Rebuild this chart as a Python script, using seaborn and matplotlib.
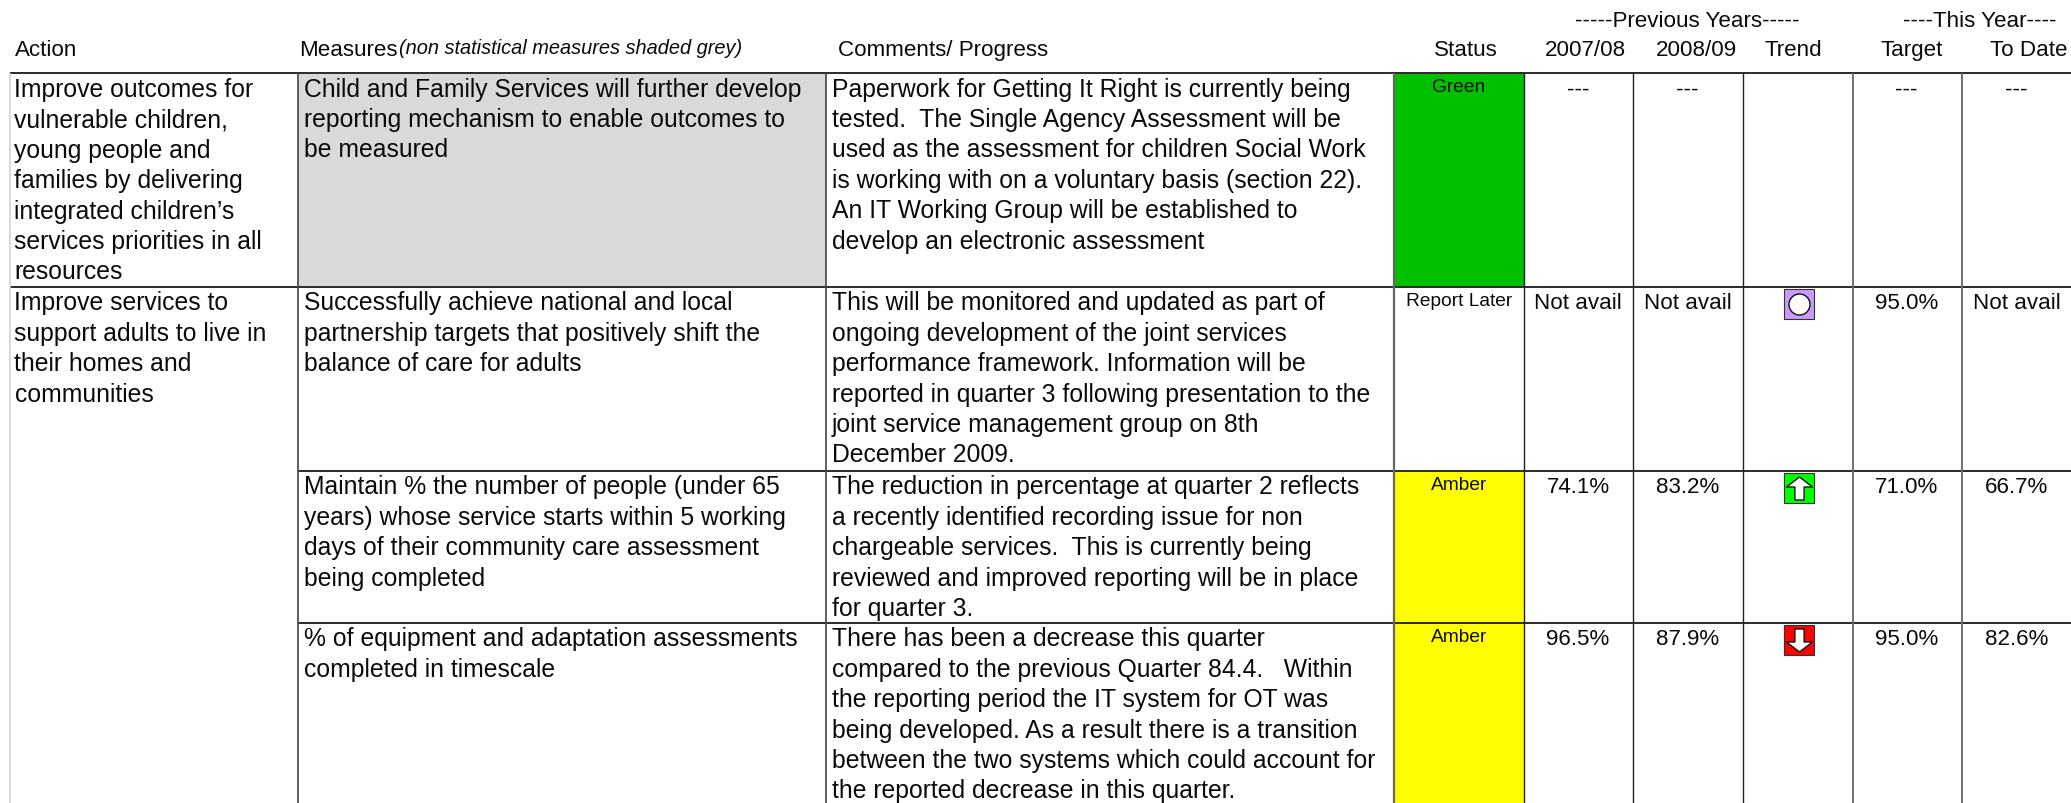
import matplotlib
matplotlib.use("Agg")
import matplotlib.pyplot as plt
import numpy as np
from matplotlib.colors import ListedColormap
from matplotlib.path import Path
import seaborn as sns

# report content
ACTIONS = [
    ["Improve outcomes for", "vulnerable children,", "young people and", "families by delivering",
     "integrated children\u2019s", "services priorities in all", "resources"],
    ["Improve services to", "support adults to live in", "their homes and", "communities"],
]
MEASURES = [
    ["Child and Family Services will further develop", "reporting mechanism to enable outcomes to",
     "be measured"],
    ["Successfully achieve national and local", "partnership targets that positively shift the",
     "balance of care for adults"],
    ["Maintain % the number of people (under 65", "years) whose service starts within 5 working",
     "days of their community care assessment", "being completed"],
    ["% of equipment and adaptation assessments", "completed in timescale"],
]
COMMENTS = [
    ["Paperwork for Getting It Right is currently being", "tested.  The Single Agency Assessment will be",
     "used as the assessment for children Social Work", "is working with on a voluntary basis (section 22).",
     "An IT Working Group will be established to", "develop an electronic assessment"],
    ["This will be monitored and updated as part of", "ongoing development of the joint services",
     "performance framework. Information will be", "reported in quarter 3 following presentation to the",
     "joint service management group on 8th", "December 2009."],
    ["The reduction in percentage at quarter 2 reflects", "a recently identified recording issue for non",
     "chargeable services.  This is currently being", "reviewed and improved reporting will be in place",
     "for quarter 3."],
    ["There has been a decrease this quarter", "compared to the previous Quarter 84.4.   Within",
     "the reporting period the IT system for OT was", "being developed. As a result there is a transition",
     "between the two systems which could account for", "the reported decrease in this quarter."],
]
STATUS = ["Green", "Report Later", "Amber", "Amber"]
Y2007 = ["---", "Not avail", "74.1%", "96.5%"]
Y2008 = ["---", "Not avail", "83.2%", "87.9%"]
TREND = ["", "same", "up", "down"]
TARGET = ["---", "95.0%", "71.0%", "95.0%"]
TO_DATE = ["---", "Not avail", "66.7%", "82.6%"]

# layout, in pixels of the 2071x804 page
COL_EDGES = [0, 10, 298, 826, 1394, 1524, 1633, 1743, 1853, 1962, 2071]
ROW_EDGES = [0, 74, 288, 472, 624, 804]
STATUS_COLORS = ["white", "#D9D9D9", "#00C000", "#FFFF00"]
TREND_COLORS = {"same": "#CC99FF", "up": "#00FF00", "down": "#FF0000"}
BODY_PT = 17.8
HEAD_PT = 16.1
PITCH = 30.4

# fill code per row (header + 4 rows) and column
cell_codes = np.zeros((5, 10), dtype=int)
cell_codes[1, 2] = 1
cell_codes[1, 4] = 2
cell_codes[3:5, 4] = 3
pixel_codes = np.repeat(np.repeat(cell_codes, np.diff(ROW_EDGES), axis=0), np.diff(COL_EDGES), axis=1)

sns.set_theme(style="white")
plt.rcParams["font.family"] = ["Liberation Sans", "DejaVu Sans"]

fig = plt.figure(figsize=(20.71, 8.04), dpi=100)
ax = fig.add_axes([0, 0, 1, 1])
sns.heatmap(pixel_codes, ax=ax, cmap=ListedColormap(STATUS_COLORS), vmin=-0.5, vmax=3.5,
            cbar=False, xticklabels=False, yticklabels=False)
ax.set_xlim(0, 2071)
ax.set_ylim(804, 0)
ax.axis("off")


def put(x, y, label, size=BODY_PT, ha="left", **kw):
    ax.text(x, y, label, fontsize=size, ha=ha, va="baseline", color="#0a0a0a", **kw)


def put_lines(x, y, lines):
    for i, line in enumerate(lines):
        put(x, y + i * PITCH, line)


# headers
put(14.5, 56, "Action", HEAD_PT)
put(299, 56, "Measures", HEAD_PT)
put(399, 54, "(non statistical measures shaded grey)", 14.4, style="italic")
put(838, 56, "Comments/ Progress", HEAD_PT)
for x, label in [(1466, "Status"), (1585, "2007/08"), (1696, "2008/09"), (1793, "Trend"),
                 (1912, "Target"), (2029, "To Date")]:
    put(x, 56, label, HEAD_PT, ha="center")
put(1687, 27, "-----Previous Years-----", HEAD_PT, ha="center")
put(1980, 27, "----This Year----", HEAD_PT, ha="center")

# grid lines
ax.hlines(ROW_EDGES[1:3], 10, 2071, color="#2a2a2a", lw=1.4)
ax.hlines(ROW_EDGES[3:5], 298, 2071, color="#2a2a2a", lw=1.4)
ax.vlines(COL_EDGES[1], 74, 804, color="#D2D2D2", lw=1.2)
ax.vlines(COL_EDGES[2:4], 74, 804, color="#444444", lw=1.2)
ax.vlines(COL_EDGES[4], 74, 804, color="#666666", lw=1.6)
ax.vlines(COL_EDGES[5:8], 74, 804, color="#222222", lw=1.0)
ax.vlines(COL_EDGES[8:10], 74, 804, color="#666666", lw=1.3)

# row text
tops = ROW_EDGES[1:5]
put_lines(14.5, tops[0] + 23, ACTIONS[0])
put_lines(14.5, tops[1] + 22.5, ACTIONS[1])
for i, top in enumerate(tops):
    put_lines(304, top + 22.5, MEASURES[i])
    put_lines(832, top + 22.5, COMMENTS[i])
    put(1459, top + 18.5, STATUS[i], 13.8, ha="center")
    base = top + 21.5
    put(1578, base, Y2007[i], HEAD_PT, ha="center")
    put(1687.5, base, Y2008[i], HEAD_PT, ha="center")
    put(1906.5, base, TARGET[i], HEAD_PT, ha="center")
    put(2016.5, base, TO_DATE[i], HEAD_PT, ha="center")

# trend markers
up_arrow = Path([(-13, 1.5), (0, 11.5), (13, 1.5), (4.6, 1.5), (4.6, -11.5), (-4.6, -11.5),
                 (-4.6, 1.5), (-13, 1.5)], closed=True)
down_arrow = Path([(-13, -1.5), (0, -11.5), (13, -1.5), (4.6, -1.5), (4.6, 11.5), (-4.6, 11.5),
                   (-4.6, -1.5), (-13, -1.5)], closed=True)
glyphs = {"same": ("o", 21), "up": (up_arrow, 26), "down": (down_arrow, 26)}
for i, kind in enumerate(TREND):
    if not kind:
        continue
    y = tops[i] + 17
    sns.scatterplot(x=[1798.5], y=[y], ax=ax, marker="s", s=(30 * 0.72) ** 2, color=TREND_COLORS[kind],
                    edgecolor="#333333", linewidth=0.8, legend=False)
    marker, width = glyphs[kind]
    sns.scatterplot(x=[1798.5], y=[y], ax=ax, marker=marker, s=(width * 0.72) ** 2, color="white",
                    edgecolor="#111111", linewidth=1.0, legend=False)

ax.set_xlim(0, 2071)
ax.set_ylim(804, 0)
fig.savefig("out.png", dpi=100)
plt.close(fig)
